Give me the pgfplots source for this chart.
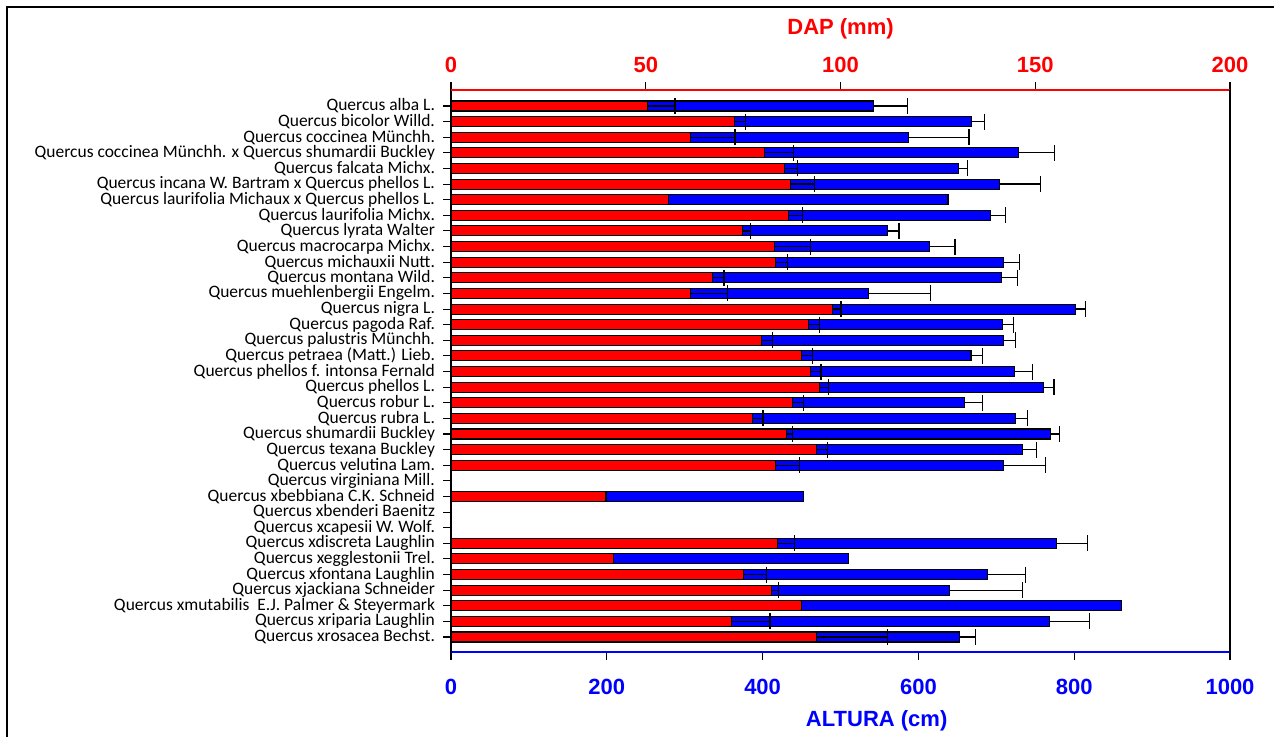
\documentclass[border=0pt]{standalone}
\usepackage{fontspec}
\setmainfont{Carlito}
\newfontfamily\arialfont{Liberation Sans}
\usepackage{pgfplots}
\usepackage{pgfplotstable}
\pgfplotsset{compat=1.18}

\pgfplotstableread{
y alt alterr
1 542 44
2 668 17
3 587 78
4 728 47
5 651 12.5
6 704 53
8 693 19
9 560 15
10 614 33
11 709 20.5
12 707 20
13 536 80
14 802 12.5
15 708 14
16 709 16
17 667.5 15
18 723 23.5
19 761 13
20 659 23
21 725 15.5
22 770 11.5
23 734 18
24 709 54
29 777.5 39.5
31 689 48.5
32 640 94
34 768 52
35 653 20.6
}\altErr

\pgfplotstableread{
y alt
7 638
26 452
30 510
33 861
}\altNoErr

\pgfplotstableread{
y dap daperr
1 50.5 7.0
2 72.7 2.9
3 61.5 11.4
4 80.4 7.6
5 85.6 3.3
6 87.2 6.1
8 86.7 3.6
9 74.9 2.0
10 83.0 9.3
11 83.4 3.0
12 67.2 2.9
13 61.4 9.5
14 97.9 2.2
15 91.8 2.9
16 79.7 2.9
17 90.0 2.8
18 92.2 2.8
19 94.6 2.4
20 87.6 2.9
21 77.5 2.6
22 86.2 1.5
23 93.8 2.9
24 83.3 6.2
29 83.9 4.2
31 75.1 6.0
32 82.2 1.9
34 71.9 10.0
35 93.8 18.2
}\dapErr

\pgfplotstableread{
y dap
7 55.8
26 39.8
30 41.8
33 89.9
}\dapNoErr

\pgfplotsset{
  common/.style={
    at={(338.25pt,63pt)}, anchor=south west,
    scale only axis, width=584.25pt, height=421.5pt,
    ymin=-0.0243, ymax=35.96, y dir=reverse,
    tick align=outside, major tick length=6pt,
    tick style={black, line width=0.8pt},
    /pgf/number format/assume math mode=true,
    /pgf/number format/1000 sep={},
    xbar, bar width=0.64, bar shift=0pt,
    clip=false,
  },
  barstyle/.style={draw=black, line width=0.8pt},
  errstyle/.style={error bars/.cd, x dir=plus, x explicit,
    error bar style={black, line width=0.9pt},
    error mark=|,
    error mark options={black, line width=0.9pt, mark size=6pt}},
}

\begin{document}
\begin{tikzpicture}
\useasboundingbox (0,0) rectangle (955.5pt,552pt);
\draw[line width=1.5pt] (5.25pt,-2pt) -- (5.25pt,546.75pt) -- (958pt,546.75pt);
\begin{axis}[common,
  xmin=0, xmax=1000,
  axis x line*=bottom, axis y line*=left,
  x axis line style={blue, line width=1pt, -},
  y axis line style={black, line width=1.2pt, -},
  xtick={0,200,...,1000},
  ytick={1,...,35},
  yticklabels={{Quercus alba L.},{Quercus bicolor Willd.},{Quercus coccinea Münchh.},{Quercus coccinea Münchh. x Quercus shumardii Buckley},{Quercus falcata Michx.},{Quercus incana W. Bartram x Quercus phellos L.},{Quercus laurifolia Michaux x Quercus phellos L.},{Quercus laurifolia Michx.},{Quercus lyrata Walter},{Quercus macrocarpa Michx.},{Quercus michauxii Nutt.},{Quercus montana Wild.},{Quercus muehlenbergii Engelm.},{Quercus nigra L.},{Quercus pagoda Raf.},{Quercus palustris Münchh.},{Quercus petraea (Matt.) Lieb.},{Quercus phellos f. intonsa Fernald},{Quercus phellos L.},{Quercus robur L.},{Quercus rubra L.},{Quercus shumardii Buckley},{Quercus texana Buckley},{Quercus velutina Lam.},{Quercus virginiana Mill.},{Quercus xbebbiana C.K. Schneid},{Quercus xbenderi Baenitz},{Quercus xcapesii W. Wolf.},{Quercus xdiscreta Laughlin},{Quercus xegglestonii Trel.},{Quercus xfontana Laughlin},{Quercus xjackiana Schneider},{Quercus xmutabilis\ \ E.J. Palmer \& Steyermark},{Quercus xriparia Laughlin},{Quercus xrosacea Bechst.}},
  xticklabel style={font=\arialfont\bfseries\fontsize{16.5}{16.5}\selectfont, text=blue, yshift=-11pt},
  yticklabel style={font=\fontsize{13.1}{13.1}\selectfont, xshift=-2.5pt},
]
\addplot[barstyle, fill=blue, errstyle] table[x=alt, y=y, x error=alterr] {\altErr};
\addplot[barstyle, fill=blue] table[x=alt, y=y] {\altNoErr};
\end{axis}
\begin{axis}[common,
  xmin=0, xmax=200,
  axis x line*=top, axis y line*=right,
  x axis line style={red, line width=1pt, -},
  y axis line style={black, line width=1.2pt, -},
  xtick={0,50,...,200},
  ytick=\empty,
  xticklabel style={font=\arialfont\bfseries\fontsize{16.5}{16.5}\selectfont, text=red, yshift=3.5pt},
]
\addplot[barstyle, fill=red, errstyle] table[x=dap, y=y, x error=daperr] {\dapErr};
\addplot[barstyle, fill=red] table[x=dap, y=y] {\dapNoErr};
\end{axis}
\node[font=\arialfont\bfseries\fontsize{16.5}{16.5}\selectfont, text=red] at (630.4pt,530.4pt) {DAP (mm)};
\node[font=\arialfont\bfseries\fontsize{16.5}{16.5}\selectfont, text=blue] at (657.5pt,11.4pt) {ALTURA (cm)};
\end{tikzpicture}
\end{document}
